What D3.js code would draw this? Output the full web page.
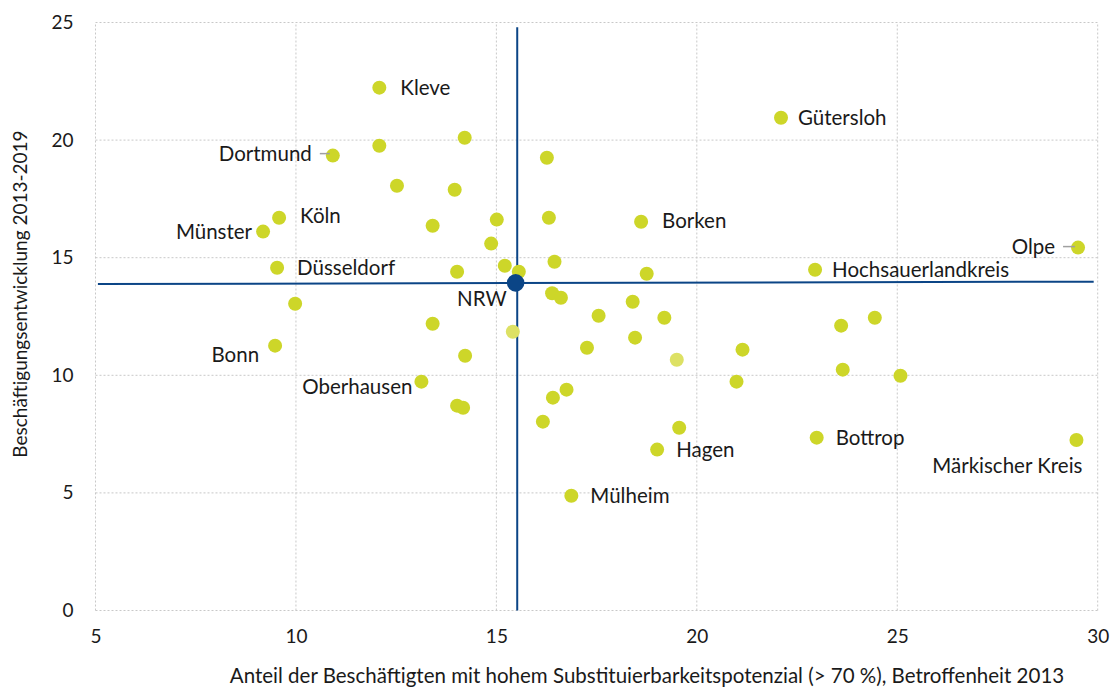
<!DOCTYPE html>
<html>
<head>
<meta charset="utf-8">
<script src="https://cdn.jsdelivr.net/npm/d3@7"></script>
<style>
  body { margin: 0; background: #fff; }
  text { font-family: "Lato", "Noto Sans", sans-serif; fill: #1a1a1a; }
  .grid line { stroke: #c8c8c8; stroke-dasharray: 2,2; }
</style>
</head>
<body>
<script>
// Kreise NRW: Betroffenheit 2013 (x) vs. Beschäftigungsentwicklung 2013-2019 (y)
var names = ["Kleve", "Dortmund", "Gütersloh", "Köln", "Münster", "Borken", "Olpe",
  "Düsseldorf", "Hochsauerlandkreis", "Bonn", "Oberhausen", "Hagen", "Bottrop",
  "Märkischer Kreis", "Mülheim",
  "", "", "", "", "", "", "", "", "", "", "", "", "", "", "", "", "", "", "",
  "", "", "", "", "", "", "", "", "", "", "", "", "", "", "", "", ""];
var xValues = [12.08, 10.92, 22.10, 9.58, 9.18, 18.61, 29.51,
  9.53, 22.95, 9.48, 13.13, 19.01, 22.99,
  29.47, 16.87,
  12.08, 14.21, 16.26, 12.52, 13.96, 13.41, 15.01, 16.31, 14.87, 16.45,
  14.02, 15.21, 15.56, 18.75, 16.39, 16.61, 18.40, 9.98, 13.41, 17.55,
  19.19, 14.22, 17.26, 18.46, 21.14, 20.99, 23.60, 24.44, 23.64, 25.08,
  16.75, 16.41, 14.02, 14.17, 16.16, 19.56];
var yValues = [22.23, 19.34, 20.95, 16.70, 16.11, 16.53, 15.43,
  14.57, 14.49, 11.26, 9.73, 6.84, 7.35,
  7.25, 4.88,
  19.76, 20.10, 19.25, 18.06, 17.89, 16.36, 16.62, 16.70, 15.60, 14.83,
  14.40, 14.66, 14.40, 14.32, 13.49, 13.30, 13.13, 13.04, 12.19, 12.53,
  12.45, 10.83, 11.17, 11.60, 11.09, 9.73, 12.11, 12.45, 10.24, 9.98,
  9.39, 9.05, 8.71, 8.62, 8.03, 7.77];
// two lighter drawn Kreise
var xHell = [15.41, 19.50];
var yHell = [11.85, 10.66];
// NRW average
var nrwX = 15.48, nrwY = 13.93;
var crossH = [[5.06, 13.88], [29.9, 13.98]];
var crossV = [[15.52, 0], [15.52, 24.8]];

var xTicks = [5, 10, 15, 20, 25, 30];
var yTicks = [0, 5, 10, 15, 20, 25];
var xTitle = "Anteil der Beschäftigten mit hohem Substituierbarkeitspotenzial (> 70 %), Betroffenheit 2013";
var yTitle = "Beschäftigungsentwicklung 2013-2019";

var width = 1115, height = 689;
var dotColor = "#cdd629", lightColor = "#dde164", blue = "#0b4586";
var labelSize = "20.5px";

// label placement: [dx, dy, anchor, leader]
var labelPos = {
  "Kleve": [21, 0, "start"],
  "Dortmund": [-21, -2, "end", true],
  "Gütersloh": [17, 0, "start"],
  "Köln": [21, -2, "start"],
  "Münster": [-11, 0, "end"],
  "Borken": [21, -1, "start"],
  "Olpe": [-23, -1, "end", true],
  "Düsseldorf": [20, 0, "start"],
  "Hochsauerlandkreis": [17, 0, "start"],
  "Bonn": [-16, 9, "end"],
  "Oberhausen": [-9, 5, "end"],
  "Hagen": [19, 0, "start"],
  "Bottrop": [19, 0, "start"],
  "Märkischer Kreis": [6, 26, "end"],
  "Mülheim": [19, 0, "start"]
};

var svg = d3.select("body").append("svg")
    .attr("width", width)
    .attr("height", height);

var x = d3.scaleLinear().domain([5, 30]).range([95.5, 1097.7]);
var y = d3.scaleLinear().domain([0, 25]).range([610.5, 22.5]);

// grid
var grid = svg.append("g").classed("grid", true);
grid.selectAll(".gx").data(xTicks).enter().append("line")
    .attr("x1", function(d) { return x(d); })
    .attr("x2", function(d) { return x(d); })
    .attr("y1", y(0))
    .attr("y2", y(25));
grid.selectAll(".gy").data(yTicks).enter().append("line")
    .attr("x1", x(5))
    .attr("x2", x(30))
    .attr("y1", function(d) { return y(d); })
    .attr("y2", function(d) { return y(d); });

// axes (labels only)
var xAxis = svg.append("g")
    .attr("transform", "translate(0," + (y(0) + 11) + ")")
    .call(d3.axisBottom(x).tickValues(xTicks).tickSize(0).tickPadding(8));
var yAxis = svg.append("g")
    .attr("transform", "translate(" + (x(5) - 14) + ",0)")
    .call(d3.axisLeft(y).tickValues(yTicks).tickSize(0).tickPadding(8));
[xAxis, yAxis].forEach(function(a) {
  a.select(".domain").remove();
  a.selectAll("text").style("font-family", "Lato, 'Noto Sans', sans-serif")
    .style("font-size", "19px").attr("fill", "#1a1a1a");
});

svg.append("text")
    .attr("x", 647)
    .attr("y", 683)
    .attr("text-anchor", "middle")
    .style("font-size", "20.5px")
    .text(xTitle);

svg.append("text")
    .attr("transform", "translate(27,294) rotate(-90)")
    .attr("text-anchor", "middle")
    .style("font-size", "19px")
    .text(yTitle);

// NRW cross
var line = d3.line().x(function(d) { return x(d[0]); }).y(function(d) { return y(d[1]); });
svg.append("path").attr("d", line(crossH)).attr("stroke", blue).attr("stroke-width", 2).attr("fill", "none");
svg.append("path").attr("d", line(crossV)).attr("stroke", blue).attr("stroke-width", 2).attr("fill", "none");

var data = names.map(function(n, i) { return { name: n, x: xValues[i], y: yValues[i] }; });
var hell = xHell.map(function(v, i) { return { x: v, y: yHell[i] }; });

svg.selectAll(".hell").data(hell).enter().append("circle")
    .attr("cx", function(d) { return x(d.x); })
    .attr("cy", function(d) { return y(d.y); })
    .attr("r", 7)
    .attr("fill", lightColor);

svg.selectAll(".dot").data(data).enter().append("circle")
    .attr("cx", function(d) { return x(d.x); })
    .attr("cy", function(d) { return y(d.y); })
    .attr("r", 7)
    .attr("fill", dotColor);

svg.append("circle")
    .attr("cx", x(nrwX))
    .attr("cy", y(nrwY))
    .attr("r", 8.8)
    .attr("fill", blue);

svg.append("text")
    .attr("x", x(nrwX) - 9)
    .attr("y", y(nrwY) + 16)
    .attr("dy", "0.35em")
    .attr("text-anchor", "end")
    .style("font-size", labelSize)
    .text("NRW");

// labels
var labeled = data.filter(function(d) { return d.name !== ""; });
labeled.forEach(function(d) {
  var p = labelPos[d.name];
  svg.append("text")
      .attr("x", x(d.x) + p[0])
      .attr("y", y(d.y) + p[1])
      .attr("dy", "0.35em")
      .attr("text-anchor", p[2])
      .style("font-size", labelSize)
      .text(d.name);
  if (p[3]) {
    svg.append("line")
        .attr("x1", x(d.x) + p[0] + 8)
        .attr("x2", x(d.x) - 3)
        .attr("y1", y(d.y) + p[1])
        .attr("y2", y(d.y) + p[1])
        .attr("stroke", "#a0a0a0")
        .attr("stroke-width", 1.5);
  }
});
</script>
</body>
</html>
